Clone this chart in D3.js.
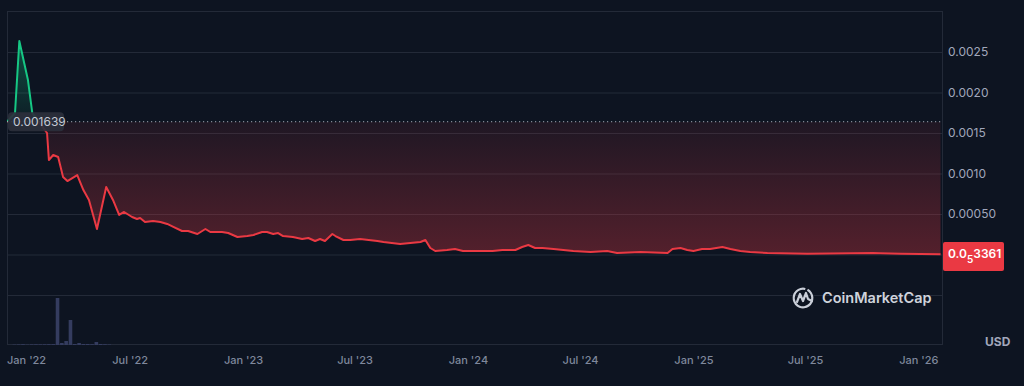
<!DOCTYPE html>
<html>
<head>
<meta charset="utf-8">
<script src="https://cdn.jsdelivr.net/npm/d3@7"></script>
<style>
  html, body { margin: 0; padding: 0; background: #0d1421; }
  svg { display: block; font-family: Inter, "Noto Sans", sans-serif; }
</style>
</head>
<body>
<div id="chart"></div>
<script>
// price series
const priceDates = [
  "2021-12-14","2021-12-27","2022-01-03","2022-01-17","2022-01-24","2022-02-17","2022-02-20","2022-02-27",
  "2022-03-07","2022-03-15","2022-03-22","2022-04-07","2022-04-17","2022-04-26","2022-05-09","2022-05-24",
  "2022-06-04","2022-06-14","2022-06-22","2022-07-05","2022-07-13","2022-07-18","2022-07-26","2022-08-08",
  "2022-08-20","2022-08-31","2022-09-10","2022-09-24","2022-10-04","2022-10-19","2022-11-01","2022-11-09",
  "2022-11-28","2022-12-08","2022-12-23","2023-01-08","2023-01-18","2023-02-01","2023-02-09","2023-02-19",
  "2023-02-27","2023-03-07","2023-03-23","2023-04-07","2023-04-17","2023-04-28","2023-05-06","2023-05-14",
  "2023-05-26","2023-05-31","2023-06-13","2023-06-24","2023-07-10","2023-08-07","2023-08-17","2023-09-13",
  "2023-10-16","2023-10-24","2023-11-01","2023-11-09","2023-11-28","2023-12-11","2023-12-24","2024-02-10",
  "2024-02-26","2024-03-18","2024-03-29","2024-04-08","2024-04-19","2024-05-01","2024-05-19","2024-06-20",
  "2024-07-18","2024-08-14","2024-08-30","2024-10-07","2024-11-20","2024-11-28","2024-12-11","2024-12-22",
  "2025-01-01","2025-01-15","2025-01-28","2025-02-17","2025-03-02","2025-03-18","2025-04-03","2025-05-01",
  "2025-07-05","2025-10-20","2025-10-31","2025-12-03","2026-02-06"
];
const priceValues = [
  0.001639,0.001747,0.002636,0.002154,0.001747,0.001500,0.001167,0.001228,
  0.001204,0.000957,0.000907,0.000981,0.000796,0.000673,0.000315,0.000833,
  0.000673,0.000488,0.000525,0.000463,0.000438,0.000451,0.000401,0.000414,
  0.000401,0.000377,0.000340,0.000290,0.000290,0.000253,0.000315,0.000278,
  0.000278,0.000265,0.000216,0.000228,0.000241,0.000278,0.000278,0.000253,
  0.000265,0.000228,0.000216,0.000191,0.000204,0.000167,0.000191,0.000167,
  0.000253,0.000228,0.000179,0.000179,0.000191,0.000167,0.000154,0.000130,
  0.000154,0.000179,0.000080,0.000043,0.000056,0.000068,0.000043,0.000043,
  0.000056,0.000056,0.000093,0.000117,0.000080,0.000080,0.000068,0.000043,
  0.000031,0.000043,0.000019,0.000031,0.000019,0.000068,0.000080,0.000056,
  0.000043,0.000068,0.000068,0.000093,0.000068,0.000043,0.000031,0.000019,
  0.000008,0.000019,0.000015,0.000008,0.000003361
];

// weekly volume bars (thousand USD, estimated)
const volumeDates = [
  "2021-12-26","2022-01-02","2022-01-09","2022-01-16","2022-01-23","2022-01-30","2022-02-06","2022-02-13",
  "2022-02-20","2022-02-27","2022-03-06","2022-03-13","2022-03-20","2022-03-27","2022-04-03","2022-04-10",
  "2022-04-17","2022-04-24","2022-05-01","2022-05-08","2022-05-15","2022-05-22","2022-05-29"
];
const volumeValues = [
  0.4,0.5,0.8,0.4,0.6,0.7,0.6,0.7,
  0.8,0.9,47,2,4,25,1,2,
  1,1,0.8,3,1,0.8,0.5
];

const basePrice = 0.001639;
const basePriceLabel = "0.001639";
const lastPriceParts = ["0.0", "5", "3361"];

const yTickValues = [0.0005, 0.0010, 0.0015, 0.0020, 0.0025];
const yTickLabels = ["0.00050", "0.0010", "0.0015", "0.0020", "0.0025"];
const yGridValues = [-0.0005, 0, 0.0005, 0.0010, 0.0015, 0.0020, 0.0025];

const xTickDates = ["2022-01-01","2022-07-01","2023-01-01","2023-07-01","2024-01-01","2024-07-01","2025-01-01","2025-07-01","2026-01-01"];
const xTickLabels = ["Jan '22","Jul '22","Jan '23","Jul '23","Jan '24","Jul '24","Jan '25","Jul '25","Jan '26"];

const parse = d3.utcParse("%Y-%m-%d");
const W = 1024, H = 386;
const plot = { left: 7, right: 943, top: 11, bottom: 345 };

const red = "#ea3943", green = "#16c784";

const data = priceDates.map((d, i) => ({ date: parse(d), value: priceValues[i] }));
const vols = volumeDates.map((d, i) => ({ date: parse(d), value: volumeValues[i] }));

const x = d3.scaleUtc()
  .domain([parse("2021-12-14"), parse("2026-02-10")])
  .range([plot.left, plot.right]);

const y = d3.scaleLinear()
  .domain([0, 0.0025])
  .range([254.5, 52]);

const yVol = d3.scaleLinear()
  .domain([0, 50])
  .range([plot.bottom, plot.bottom - 50]);

const svg = d3.select("#chart").append("svg")
  .attr("width", W)
  .attr("height", H);

svg.append("rect").attr("width", W).attr("height", H).attr("fill", "#0d1421");

const defs = svg.append("defs");

const redGrad = defs.append("linearGradient")
  .attr("id", "redGrad")
  .attr("gradientUnits", "userSpaceOnUse")
  .attr("x1", 0).attr("x2", 0)
  .attr("y1", y(basePrice)).attr("y2", y(0));
redGrad.append("stop").attr("offset", 0).attr("stop-color", red).attr("stop-opacity", 0.08);
redGrad.append("stop").attr("offset", 1).attr("stop-color", red).attr("stop-opacity", 0.32);

const greenGrad = defs.append("linearGradient")
  .attr("id", "greenGrad")
  .attr("gradientUnits", "userSpaceOnUse")
  .attr("x1", 0).attr("x2", 0)
  .attr("y1", y(0.0027)).attr("y2", y(basePrice));
greenGrad.append("stop").attr("offset", 0).attr("stop-color", green).attr("stop-opacity", 0.35);
greenGrad.append("stop").attr("offset", 1).attr("stop-color", green).attr("stop-opacity", 0.05);

defs.append("clipPath").attr("id", "clipAbove")
  .append("rect")
  .attr("x", plot.left).attr("y", plot.top)
  .attr("width", plot.right - plot.left)
  .attr("height", y(basePrice) - plot.top);

defs.append("clipPath").attr("id", "clipBelow")
  .append("rect")
  .attr("x", plot.left).attr("y", y(basePrice))
  .attr("width", plot.right - plot.left)
  .attr("height", plot.bottom - y(basePrice));

// grid lines
svg.append("g")
  .attr("transform", "translate(" + plot.left + ",0)")
  .call(d3.axisRight(y).tickValues(yGridValues).tickSize(plot.right - plot.left).tickFormat(""))
  .call(g => g.select(".domain").remove())
  .selectAll("line")
  .attr("stroke", "#232a38")
  .attr("stroke-width", 1);

// plot frame
svg.append("rect")
  .attr("x", plot.left + 0.5).attr("y", plot.top + 0.5)
  .attr("width", plot.right - plot.left - 1)
  .attr("height", plot.bottom - plot.top - 1)
  .attr("fill", "none")
  .attr("stroke", "#232a38");

// volume bars
svg.append("g")
  .selectAll("rect")
  .data(vols)
  .enter()
  .append("rect")
  .attr("x", d => x(d.date) - 1.8)
  .attr("width", 3.6)
  .attr("y", d => yVol(d.value))
  .attr("height", d => yVol(0) - yVol(d.value))
  .attr("fill", "#343c5f");

const area = d3.area()
  .x(d => x(d.date))
  .y0(y(basePrice))
  .y1(d => y(d.value));

const line = d3.line()
  .x(d => x(d.date))
  .y(d => y(d.value));

svg.append("path").datum(data)
  .attr("clip-path", "url(#clipAbove)")
  .attr("d", area)
  .attr("fill", "url(#greenGrad)");

svg.append("path").datum(data)
  .attr("clip-path", "url(#clipBelow)")
  .attr("d", area)
  .attr("fill", "url(#redGrad)");

svg.append("path").datum(data)
  .attr("clip-path", "url(#clipAbove)")
  .attr("d", line)
  .attr("fill", "none")
  .attr("stroke", green)
  .attr("stroke-width", 2)
  .attr("stroke-linejoin", "round");

svg.append("path").datum(data)
  .attr("clip-path", "url(#clipBelow)")
  .attr("d", line)
  .attr("fill", "none")
  .attr("stroke", red)
  .attr("stroke-width", 2)
  .attr("stroke-linejoin", "round");

// dotted base price line
svg.append("line")
  .attr("x1", plot.left).attr("x2", plot.right)
  .attr("y1", y(basePrice)).attr("y2", y(basePrice))
  .attr("stroke", "#c8cdd8")
  .attr("stroke-opacity", 0.8)
  .attr("stroke-dasharray", "1.2,2.8");

// base price label
svg.append("rect")
  .attr("x", 8).attr("y", y(basePrice) - 9.5)
  .attr("width", 56).attr("height", 19)
  .attr("rx", 4)
  .attr("fill", "#2b303c")
  .attr("fill-opacity", 0.92);
svg.append("text")
  .attr("x", 13).attr("y", y(basePrice))
  .attr("dy", "0.35em")
  .attr("font-size", 12)
  .attr("fill", "#c3c9d5")
  .text(basePriceLabel);

// y axis labels
const yAxis = svg.append("g")
  .attr("transform", "translate(" + plot.right + ",0)")
  .call(d3.axisRight(y).tickValues(yTickValues).tickSize(0).tickPadding(5)
    .tickFormat((d, i) => yTickLabels[i]));
yAxis.select(".domain").remove();
yAxis.selectAll("text")
  .attr("font-size", 12)
  .attr("font-family", "Inter, sans-serif")
  .attr("fill", "#a1a7bb");

// x axis labels
const xAxis = svg.append("g")
  .attr("transform", "translate(0," + plot.bottom + ")")
  .call(d3.axisBottom(x).tickValues(xTickDates.map(parse)).tickSize(0).tickPadding(11)
    .tickFormat((d, i) => xTickLabels[i]));
xAxis.select(".domain").remove();
xAxis.selectAll("text")
  .attr("font-size", 11)
  .attr("font-weight", 500)
  .attr("font-family", "Inter, sans-serif")
  .attr("fill", "#7f889c");
// keep the first label inside the frame
xAxis.select(".tick text").attr("dx", 8);

// last price label
svg.append("rect")
  .attr("x", plot.right).attr("y", y(0) - 12.5)
  .attr("width", 61).attr("height", 29)
  .attr("rx", 2)
  .attr("fill", red);
const lp = svg.append("text")
  .attr("x", plot.right + 5).attr("y", y(0) + 3.5)
  .attr("font-size", 12)
  .attr("font-weight", 600)
  .attr("fill", "#ffffff");
lp.append("tspan").text(lastPriceParts[0]);
lp.append("tspan").attr("dy", 5).attr("font-size", 10).text(lastPriceParts[1]);
lp.append("tspan").attr("dy", -5).text(lastPriceParts[2]);

// currency
svg.append("text")
  .attr("x", 985).attr("y", 342)
  .attr("dy", "0.35em")
  .attr("font-size", 12)
  .attr("font-weight", 700)
  .attr("fill", "#a1a7bb")
  .text("USD");

// watermark
const logo = svg.append("g").attr("transform", "translate(803,298)");
logo.append("path")
  .attr("d", d3.arc()({ innerRadius: 8.2, outerRadius: 10.4, startAngle: 0.5, endAngle: 2 * Math.PI + 0.25 }))
  .attr("fill", "#c9ced8");
logo.append("path")
  .attr("d", "M-6,4 L-3,-4 L0,3 L3,-5 L5,1 L9,3")
  .attr("fill", "none")
  .attr("stroke", "#c9ced8")
  .attr("stroke-width", 2.2)
  .attr("stroke-linejoin", "round")
  .attr("stroke-linecap", "round");
svg.append("text")
  .attr("x", 822).attr("y", 298)
  .attr("dy", "0.35em")
  .attr("font-size", 14.5)
  .attr("font-weight", 600)
  .attr("fill", "#cfd3dc")
  .text("CoinMarketCap");
</script>
</body>
</html>
